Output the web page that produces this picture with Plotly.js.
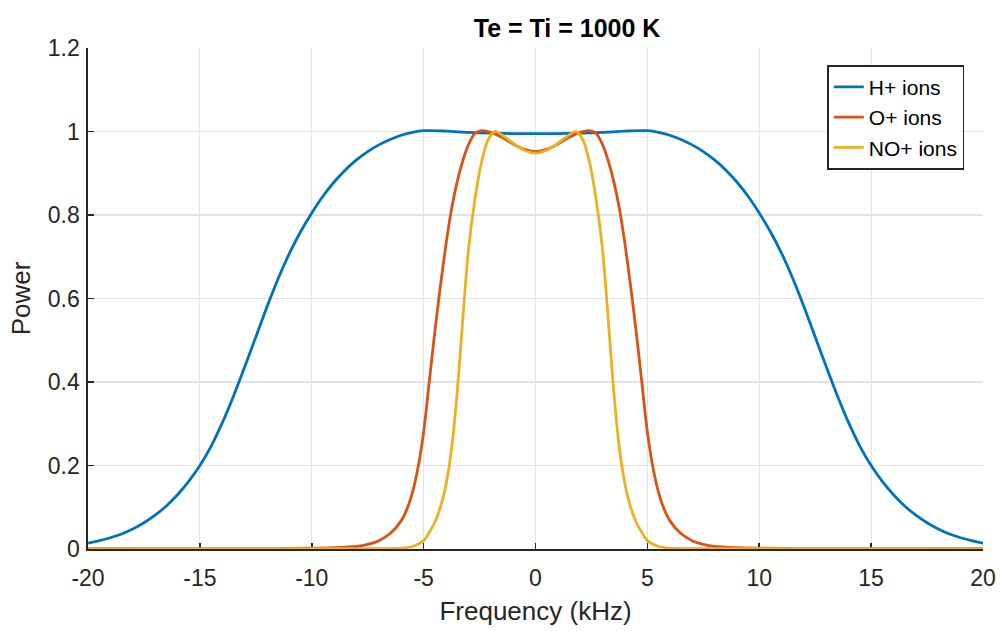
<!DOCTYPE html>
<html>
<head>
<meta charset="utf-8">
<script src="https://cdn.plot.ly/plotly-3.0.1.min.js"></script>
<style>
  html, body { margin: 0; padding: 0; background: #ffffff; }
  #chart { width: 1000px; height: 631px; }
</style>
</head>
<body>
<div id="chart"></div>
<script>
// Frequency (kHz) and normalised power
const freqH = [-20, -19.5, -19, -18.5, -18, -17.5, -17, -16.5, -16, -15.5, -15, -14.5, -14, -13.5, -13, -12.5, -12, -11.5, -11, -10.5, -10, -9.5, -9, -8.5, -8, -7.5, -7, -6.5, -6, -5.5, -5, -4, -3, -2, -1, 0,
  1, 2, 3, 4, 5, 5.5, 6, 6.5, 7, 7.5, 8, 8.5, 9, 9.5, 10, 10.5, 11, 11.5, 12, 12.5, 13, 13.5, 14, 14.5, 15, 15.5, 16, 16.5, 17, 17.5, 18, 18.5, 19, 19.5, 20];
const powerH = [0.014, 0.020, 0.027, 0.036, 0.048, 0.063, 0.081, 0.103, 0.130, 0.162, 0.200, 0.246, 0.302, 0.366, 0.436, 0.508, 0.580, 0.648, 0.708, 0.760, 0.805, 0.845, 0.879, 0.908, 0.932, 0.952, 0.968, 0.981, 0.991, 0.998, 1.002, 1.001, 0.998, 0.996, 0.995, 0.995,
  0.995, 0.996, 0.998, 1.001, 1.002, 0.998, 0.991, 0.981, 0.968, 0.952, 0.932, 0.908, 0.879, 0.845, 0.805, 0.760, 0.708, 0.648, 0.580, 0.508, 0.436, 0.366, 0.302, 0.246, 0.200, 0.162, 0.130, 0.103, 0.081, 0.063, 0.048, 0.036, 0.027, 0.020, 0.014];

const freqO = [-20, -15, -12, -10, -9, -8, -7.5, -7, -6.5, -6, -5.75, -5.5, -5.25, -5, -4.75, -4.5, -4.25, -4, -3.75, -3.5, -3.25, -3, -2.7, -2.4, -2, -1.5, -1, -0.5, 0,
  0.5, 1, 1.5, 2, 2.4, 2.7, 3, 3.25, 3.5, 3.75, 4, 4.25, 4.5, 4.75, 5, 5.25, 5.5, 5.75, 6, 6.5, 7, 7.5, 8, 9, 10, 12, 15, 20];
const powerO = [0.001, 0.001, 0.001, 0.002, 0.003, 0.006, 0.011, 0.020, 0.037, 0.068, 0.095, 0.135, 0.195, 0.280, 0.400, 0.520, 0.630, 0.730, 0.815, 0.880, 0.930, 0.968, 0.996, 1.002, 0.998, 0.986, 0.970, 0.957, 0.952,
  0.957, 0.970, 0.986, 0.998, 1.002, 0.996, 0.968, 0.930, 0.880, 0.815, 0.730, 0.630, 0.520, 0.400, 0.280, 0.195, 0.135, 0.095, 0.068, 0.037, 0.020, 0.011, 0.006, 0.003, 0.002, 0.001, 0.001, 0.001];

const freqNO = [-20, -15, -10, -7, -6, -5.5, -5, -4.75, -4.5, -4.25, -4, -3.75, -3.5, -3.25, -3, -2.7, -2.4, -2.1, -1.8, -1.5, -1, -0.5, 0,
  0.5, 1, 1.5, 1.8, 2.1, 2.4, 2.7, 3, 3.25, 3.5, 3.75, 4, 4.25, 4.5, 4.75, 5, 5.5, 6, 7, 10, 15, 20];
const powerNO = [0.001, 0.001, 0.001, 0.001, 0.002, 0.006, 0.020, 0.040, 0.064, 0.100, 0.155, 0.240, 0.375, 0.550, 0.715, 0.840, 0.930, 0.982, 1.000, 0.992, 0.972, 0.955, 0.948,
  0.955, 0.972, 0.992, 1.000, 0.982, 0.930, 0.840, 0.715, 0.550, 0.375, 0.240, 0.155, 0.100, 0.064, 0.040, 0.020, 0.006, 0.002, 0.001, 0.001, 0.001, 0.001];

const seriesNames = ['H+ ions', 'O+ ions', 'NO+ ions'];
const seriesColors = ['#0072BD', '#D95319', '#EDB120'];

const xTicks = [-20, -15, -10, -5, 0, 5, 10, 15, 20];
const yTicks = [0, 0.2, 0.4, 0.6, 0.8, 1, 1.2];
const yTickText = ['0', '0.2', '0.4', '0.6', '0.8', '1', '1.2'];

const FONT = 'Liberation Sans, Arial, Helvetica, sans-serif';
const xs = [freqH, freqO, freqNO];
const ys = [powerH, powerO, powerNO];

const traces = xs.map((x, i) => ({
  type: 'scatter',
  mode: 'lines',
  x: x,
  y: ys[i],
  name: seriesNames[i],
  line: { color: seriesColors[i], width: 2.8, shape: 'spline', smoothing: 0.8 },
  hoverinfo: 'skip'
}));

const axisCommon = {
  showgrid: true,
  gridcolor: '#e3e3e3',
  gridwidth: 1.2,
  zeroline: false,
  showline: true,
  linecolor: '#262626',
  linewidth: 1.6,
  ticks: 'inside',
  ticklen: 6,
  tickwidth: 1.6,
  tickcolor: '#262626',
  tickfont: { family: FONT, size: 23, color: '#262626' },
  mirror: false,
  layer: 'below traces',
  fixedrange: true
};

const layout = {
  width: 1000,
  height: 631,
  paper_bgcolor: '#ffffff',
  plot_bgcolor: '#ffffff',
  margin: { l: 88, r: 17, t: 48, b: 82 },
  title: {
    text: '<b>Te = Ti = 1000 K</b>',
    font: { family: FONT, size: 25, color: '#000000' },
    x: 0.5353, xref: 'paper', xanchor: 'center',
    y: 0.955, yref: 'container', yanchor: 'middle'
  },
  xaxis: Object.assign({}, axisCommon, {
    range: [-20, 20],
    tickmode: 'array',
    tickvals: xTicks,
    ticktext: xTicks.map(String),
    ticklabelstandoff: 8,
    title: { text: 'Frequency (kHz)', font: { family: FONT, size: 26, color: '#262626' }, standoff: 11 }
  }),
  yaxis: Object.assign({}, axisCommon, {
    range: [0, 1.2],
    tickmode: 'array',
    tickvals: yTicks,
    ticktext: yTickText,
    ticklabelstandoff: 2,
    title: { text: 'Power', font: { family: FONT, size: 26, color: '#262626' }, standoff: 10 }
  }),
  legend: {
    x: 0.979, xanchor: 'right',
    y: 0.966, yanchor: 'top',
    bgcolor: '#ffffff',
    bordercolor: '#262626',
    borderwidth: 1.6,
    font: { family: FONT, size: 21, color: '#000000' },
    tracegroupgap: 0
  },
  showlegend: true
};

Plotly.newPlot('chart', traces, layout, { staticPlot: true, displayModeBar: false });
</script>
</body>
</html>
